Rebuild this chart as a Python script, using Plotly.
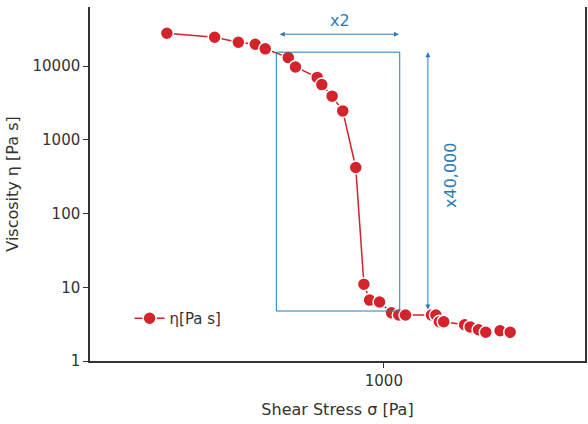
import numpy as np
import plotly.graph_objects as go

# Data (shear stress in Pa, viscosity in Pa s)
stress = [296, 387, 442, 486, 514, 585, 609, 688, 706, 748, 794, 854, 894, 923, 976,
          1044, 1087, 1129, 1306, 1339, 1365, 1399, 1573, 1623, 1701, 1771, 1919, 2031]
viscosity = [27800, 24500, 21000, 19700, 17100, 13000, 9700, 7000, 5600, 3900, 2460, 421,
             11.0, 6.7, 6.3, 4.5, 4.2, 4.2, 4.2, 4.2, 3.4, 3.4, 3.1, 2.9, 2.65, 2.45, 2.57, 2.45]

y_ticks = [1, 10, 100, 1000, 10000]
x_ticks = [1000]

# annotation box (stress window x2 and viscosity drop x40,000)
box_stress = [547, 1093]
box_visc = [4.76, 15400]

RED = "#d3232b"
BLUE = "#2a7ab8"
GREY = "#333333"
FONT = "DejaVu Sans"

fig = go.Figure()
fig.add_trace(go.Scatter(
    x=stress, y=viscosity, mode="lines+markers", name="η[Pa s]",
    line=dict(color=RED, width=1.5),
    marker=dict(color=RED, size=13, line=dict(color="white", width=1.5)),
))

fig.add_shape(type="rect", xref="x", yref="y",
              x0=box_stress[0], x1=box_stress[1], y0=box_visc[0], y1=box_visc[1],
              line=dict(color=BLUE, width=1))

lx = np.log10
# horizontal double arrow "x2"
fig.add_annotation(x=lx(1088), y=lx(27000), ax=lx(553), ay=lx(27000),
                   xref="x", yref="y", axref="x", ayref="y", text="",
                   showarrow=True, arrowhead=2, startarrowhead=2, arrowside="end+start",
                   arrowsize=1, startarrowsize=1, arrowwidth=1, arrowcolor=BLUE)
fig.add_annotation(x=lx(780), y=lx(42000), xref="x", yref="y", text="x2",
                   showarrow=False, font=dict(color=BLUE, size=16, family=FONT))
# vertical double arrow "x40,000"
fig.add_annotation(x=lx(1280), y=lx(15400), ax=lx(1280), ay=lx(4.76),
                   xref="x", yref="y", axref="x", ayref="y", text="",
                   showarrow=True, arrowhead=2, startarrowhead=2, arrowside="end+start",
                   arrowsize=1, startarrowsize=1, arrowwidth=1, arrowcolor=BLUE)
fig.add_annotation(x=lx(1455), y=lx(330), xref="x", yref="y", text="x40,000",
                   textangle=-90, showarrow=False,
                   font=dict(color=BLUE, size=16, family=FONT))

fig.update_layout(
    width=588, height=424,
    margin=dict(l=90, r=1, t=7, b=63),
    paper_bgcolor="white", plot_bgcolor="white",
    font=dict(family=FONT, color=GREY, size=15),
    showlegend=True,
    legend=dict(x=0.08, y=0.12, xanchor="left", yanchor="middle",
                bgcolor="rgba(0,0,0,0)", font=dict(size=15, color=GREY)),
)
fig.update_xaxes(type="log", range=[2.284, 3.490], tickvals=x_ticks,
                 ticktext=[str(v) for v in x_ticks],
                 showgrid=False, zeroline=False, showline=True, linecolor=GREY, linewidth=1.5,
                 ticks="outside", ticklen=5, tickcolor=GREY, tickfont=dict(size=15),
                 title=dict(text="Shear Stress σ [Pa]", font=dict(size=16), standoff=15))
fig.update_yaxes(type="log", range=[0, 4.8], tickvals=y_ticks,
                 ticktext=[str(v) for v in y_ticks],
                 showgrid=False, zeroline=False, showline=True, linecolor=GREY, linewidth=1.5,
                 mirror=True,
                 ticks="outside", ticklen=5, tickcolor=GREY, tickfont=dict(size=15),
                 title=dict(text="Viscosity η [Pa s]", font=dict(size=16), standoff=10))

fig.write_html("out.html")
